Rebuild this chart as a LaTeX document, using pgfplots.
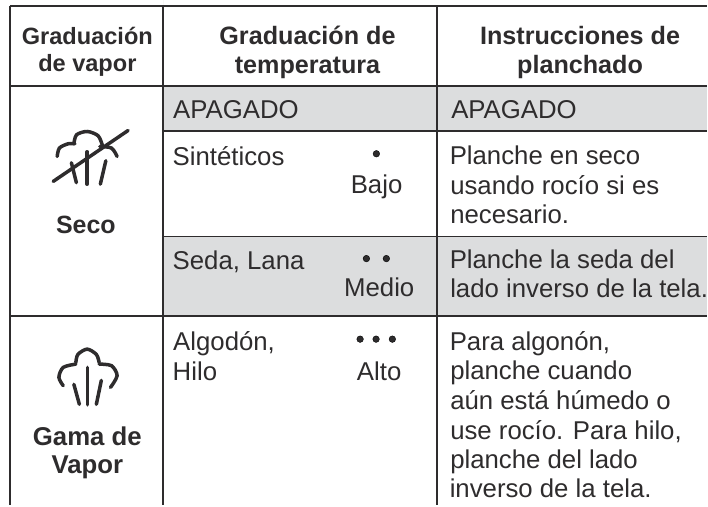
\documentclass[border=0pt]{standalone}
\usepackage{pgfplots}
\pgfplotsset{compat=1.18}
\usepackage{fontspec}
\setmainfont{Liberation Sans}
\definecolor{ink}{HTML}{2E2C2D}
\definecolor{band}{HTML}{DCDDDE}
\newcommand{\bodyf}{\fontsize{25.8}{29}\selectfont}
\newcommand{\headf}{\fontsize{25.2}{28}\selectfont\bfseries}
\newcommand{\heads}{\fontsize{23.6}{28}\selectfont\bfseries}
\newcommand{\headc}{\fontsize{25}{28}\selectfont\bfseries}
\newcommand{\headg}{\fontsize{25.8}{28}\selectfont\bfseries}
\tikzset{W/.style={anchor=base west,inner sep=0pt,outer sep=0pt,text=ink,font=\bodyf,xshift=1pt,yshift=-0.8pt},
 E/.style={anchor=base east,inner sep=0pt,outer sep=0pt,text=ink,font=\bodyf,xshift=1pt,yshift=-0.8pt},
 H/.style={anchor=base,inner sep=0pt,outer sep=0pt,text=ink,font=#1}}
\begin{document}
\begin{tikzpicture}[x=1pt,y=1pt]
\path (0,0) rectangle (708,506);
\begin{axis}[at={(0,0)},anchor=south west,scale only axis,width=708pt,height=506pt,
  xmin=0,xmax=708,ymin=0,ymax=506,y dir=reverse,axis lines=none,clip=false]
% grey bands
\addplot[fill=band,draw=none] coordinates {(164,86) (708,86) (708,131) (164,131)} \closedcycle;
\addplot[fill=band,draw=none] coordinates {(164,237) (708,237) (708,316) (164,316)} \closedcycle;
% rules
\addplot[ink,line width=2pt] coordinates {(10,6.5) (708,6.5)};
\addplot[ink,line width=2pt] coordinates {(10,86) (708,86)};
\addplot[ink,line width=1.5pt] coordinates {(164,131) (708,131)};
\addplot[ink,line width=1.5pt] coordinates {(164,237) (708,237)};
\addplot[ink,line width=2pt] coordinates {(10,316.5) (708,316.5)};
\addplot[ink,line width=2pt] coordinates {(10.5,6) (10.5,506)};
\addplot[ink,line width=2pt] coordinates {(163.5,6) (163.5,506)};
\addplot[ink,line width=2pt] coordinates {(438,6) (438,506)};
% dots
\addplot[only marks,mark=*,mark size=3.3pt,mark options={fill=ink,draw=none}] coordinates {
(377,154) (367,259) (387,259) (360.7,339.7) (376.7,339.7) (393,339.7)};
% dry icon
\addplot[ink,line width=3.5pt,smooth,line cap=round] coordinates {(57.3,156.7) (59.5,148.3) (68.3,144) (75,144)};
\addplot[ink,line width=3.5pt,smooth,line cap=round] coordinates {(74,144) (76.7,135) (87.3,131.7) (98.3,136) (102.7,146)};
\addplot[ink,line width=3.5pt,smooth,line cap=round] coordinates {(100,146.7) (111.7,148.3) (117.3,156.7)};
\addplot[ink,line width=3.5pt,line cap=round] coordinates {(87.3,152) (87.3,184.5)};
\addplot[ink,line width=3.5pt,line cap=round] coordinates {(71.5,163) (76.5,183)};
\addplot[ink,line width=3.5pt,line cap=round] coordinates {(106,161) (100.5,184.5)};
\addplot[ink,line width=3.5pt,line cap=round] coordinates {(53.3,181.7) (128.3,130.7)};
% steam icon
\addplot[ink,line width=3.5pt,smooth,line cap=round] coordinates {(63.3,386.3) (59,378) (63.3,368) (76,364.7)};
\addplot[ink,line width=3.5pt,smooth,line cap=round] coordinates {(76,363) (78,355) (87.3,349.7) (96.5,355) (99.3,363)};
\addplot[ink,line width=3.5pt,smooth,line cap=round] coordinates {(99.3,364.7) (111.7,366.3) (117.3,376.3) (110.7,388)};
\addplot[ink,line width=3.5pt,line cap=round] coordinates {(87.5,368) (87.5,405.5)};
\addplot[ink,line width=3.5pt,line cap=round] coordinates {(74,385) (79.5,405)};
\addplot[ink,line width=3.5pt,line cap=round] coordinates {(101.5,381) (96.5,405)};
% headers
\node[H=\heads] at (axis cs:87.5,45) {Graduación};
\node[H=\heads] at (axis cs:87.5,72) {de vapor};
\node[H=\headf] at (axis cs:308,45) {Graduación de};
\node[H=\headf] at (axis cs:308,74) {temperatura};
\node[H=\headf] at (axis cs:581,45) {Instrucciones de};
\node[H=\headf] at (axis cs:581,74) {planchado};
\node[H=\headc] at (axis cs:86,234) {Seco};
\node[H=\headg] at (axis cs:87.5,446) {Gama de};
\node[H=\headg] at (axis cs:87.5,474) {Vapor};
% column 2
\node[W] at (axis cs:172.5,118) {APAGADO};
\node[W] at (axis cs:172,165) {Sintéticos};
\node[E] at (axis cs:402,193) {Bajo};
\node[W] at (axis cs:172,269) {Seda, Lana};
\node[E] at (axis cs:414,296) {Medio};
\node[W] at (axis cs:172.5,350) {Algodón,};
\node[W] at (axis cs:172,380) {Hilo};
\node[E] at (axis cs:401,380) {Alto};
% column 3
\node[W] at (axis cs:451,118) {APAGADO};
\node[W] at (axis cs:449.5,164) {Planche en seco};
\node[W] at (axis cs:450,194) {usando rocío si es};
\node[W] at (axis cs:450,223) {necesario.};
\node[W] at (axis cs:449.5,268) {Planche la seda del};
\node[W] at (axis cs:450,297) {lado inverso de la tela.};
\node[W] at (axis cs:449.5,350) {Para algonón,};
\node[W] at (axis cs:450,379) {planche cuando};
\node[W] at (axis cs:450,409.5) {aún está húmedo o};
\node[W] at (axis cs:450,439.5) {use rocío. Para hilo,};
\node[W] at (axis cs:450,468.5) {planche del lado};
\node[W] at (axis cs:449.5,498) {inverso de la tela.};
\end{axis}
\end{tikzpicture}
\end{document}
